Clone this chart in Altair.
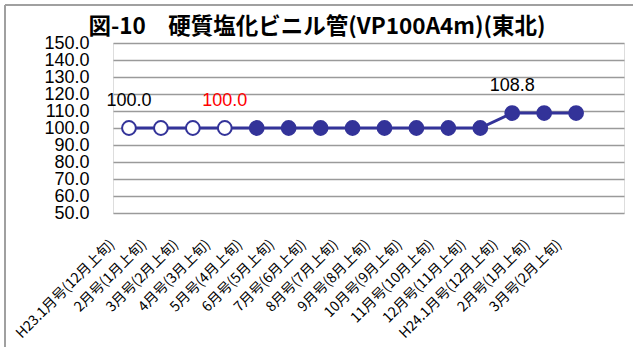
import altair as alt
import pandas as pd

# Monthly price index, hard PVC pipe (VP100A4m), Tohoku region
title_text = "図-10　硬質塩化ビニル管(VP100A4m)(東北)"
issues = [
    "H23.1月号(12月上旬)", "2月号(1月上旬)", "3月号(2月上旬)", "4月号(3月上旬)",
    "5月号(4月上旬)", "6月号(5月上旬)", "7月号(6月上旬)", "8月号(7月上旬)",
    "9月号(8月上旬)", "10月号(9月上旬)", "11月号(10月上旬)", "12月号(11月上旬)",
    "H24.1月号(12月上旬)", "2月号(1月上旬)", "3月号(2月上旬)",
]
values = [100.0, 100.0, 100.0, 100.0, 100.0, 100.0, 100.0, 100.0,
          100.0, 100.0, 100.0, 100.0, 108.8, 108.8, 108.8]
hollow = [True, True, True, True, False, False, False, False,
          False, False, False, False, False, False, False]
# points that carry a value label, and the label colour
label_idx = [0, 3, 12]
label_col = ["black", "red", "black"]
y_ticks = [50, 60, 70, 80, 90, 100, 110, 120, 130, 140, 150]

# category keys are made unique (two "2月号(1月上旬)" etc. exist)
keys = [f"{i:02d}|{s}" for i, s in enumerate(issues)]
df = pd.DataFrame({"key": keys, "value": values, "hollow": hollow})
lab = df.iloc[label_idx].copy()
lab["col"] = label_col

BLUE = "#333399"
FONT = "Liberation Sans"
JP = "Noto Sans CJK JP"

x_enc = alt.X(
    "key:N", sort=keys,
    scale=alt.Scale(type="point", padding=1, align=0.25),
    axis=alt.Axis(
        title=None, labelAngle=-45, labelAlign="right", labelBaseline="middle",
        labelExpr="split(datum.value, '|')[1]", labelFont=JP, labelFontSize=14,
        labelColor="black", labelPadding=29, labelOffset=-17,
        domain=False, ticks=False, grid=False, labelOverlap=False,
    ),
)
y_enc = alt.Y(
    "value:Q",
    scale=alt.Scale(domain=[50, 150], nice=False, zero=False),
    axis=alt.Axis(
        title=None, values=y_ticks, format=".1f",
        labelFont=FONT, labelFontSize=18, labelColor="black", labelPadding=24,
        domain=False, ticks=False, grid=True, gridColor="#9a9a9a",
        gridWidth=1.3, labelOverlap=False, labelBound=False, labelFlush=False,
    ),
)

base = alt.Chart(df).encode(x=x_enc, y=y_enc)

line = base.mark_line(color=BLUE, strokeWidth=3)
points = base.mark_point(filled=True, size=190, strokeWidth=2, opacity=1).encode(
    fill=alt.condition("datum.hollow", alt.value("white"), alt.value(BLUE)),
    stroke=alt.value(BLUE),
)

texts = alt.Chart(lab).mark_text(
    font=FONT, fontSize=18, dy=-27, baseline="middle"
).encode(
    x=x_enc,
    y=y_enc,
    text=alt.Text("value:Q", format=".1f"),
    color=alt.Color("col:N", scale=None),
)

# chart heading, set as a text mark above the plot area
heading = alt.Chart(pd.DataFrame({"t": [title_text]})).mark_text(
    font=JP, fontSize=22.5, fontWeight="bold", color="black",
    align="center", baseline="middle",
).encode(text="t:N", x=alt.value(204), y=alt.value(-16))

# outer frame: top and left edges
frame_top = alt.Chart(df).mark_rule(color="#a0a0a0", strokeWidth=1.5).encode(
    x=alt.value(-108), x2=alt.value(530), y=alt.value(-38)
)
frame_left = alt.Chart(df).mark_rule(color="#a0a0a0", strokeWidth=1.5).encode(
    x=alt.value(-108), y=alt.value(-38), y2=alt.value(310)
)

chart = alt.layer(frame_top, frame_left, line, points, texts, heading).properties(
    width=511,
    height=170,
    autosize=alt.AutoSizeParams(type="none"),
    padding={"left": 113, "top": 43, "right": 9, "bottom": 134},
).configure_view(stroke=None).configure(background="white")

chart.save("out.html", embed_options={"renderer": "svg", "actions": False})
